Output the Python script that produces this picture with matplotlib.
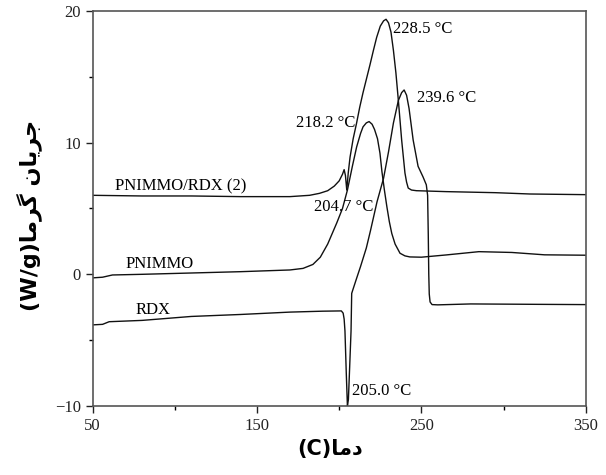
import matplotlib
matplotlib.use('Agg')
import matplotlib.pyplot as plt
from matplotlib.ticker import MultipleLocator

plt.rcParams['font.family'] = ['Liberation Serif', 'DejaVu Serif']

# PNIMMO/RDX (2) curve
mix_T = [50, 80, 110, 140, 170, 182, 188, 193, 197, 200,
         202, 203, 203.8, 204.6, 205.5, 206.6, 208.5, 210.6, 212.5, 214.5,
         216.5, 218.7, 220.8, 222.8, 225, 227, 228.5, 230, 231.5, 233,
         234.5, 236, 238, 240, 241, 242, 244, 247, 265, 295,
         316, 350]
mix_v = [6.0, 5.95, 5.95, 5.9, 5.9, 6.0, 6.15, 6.35, 6.7, 7.1,
         7.6, 7.95, 7.5, 6.4, 7.7, 8.9, 10.3, 11.5, 12.7, 13.8,
         14.8, 15.9, 17.0, 18.0, 18.85, 19.25, 19.37, 19.1, 18.4, 17.0,
         15.3, 13.2, 10.2, 7.7, 7.0, 6.55, 6.4, 6.35, 6.28, 6.2,
         6.1, 6.05]

# PNIMMO
pn_T = [50, 56, 62, 80, 110, 140, 170, 178, 184, 188.5,
        193, 198.5, 202, 205, 208, 210.6, 213, 214.5, 216.5, 218.2,
        220, 221.5, 223.3, 224.8, 226, 227.5, 229, 230.5, 232, 234,
        237, 240, 243, 250, 265, 285, 305, 325, 350]
pn_v = [-0.27, -0.22, -0.05, 0.0, 0.1, 0.2, 0.33, 0.45, 0.75, 1.3,
        2.3, 3.9, 5.0, 6.4, 8.2, 9.67, 10.7, 11.2, 11.5, 11.6,
        11.4, 11.0, 10.3, 9.2, 7.8, 6.4, 5.14, 4.0, 3.1, 2.3,
        1.6, 1.4, 1.32, 1.3, 1.47, 1.72, 1.66, 1.48, 1.45]

# RDX
rdx_T = [50, 56, 60, 80, 110, 140, 170, 190,
         201.3, 202.4, 203.0, 203.5, 204.3, 205.0, 205.6, 206.5, 207.2, 207.6,
         208.5, 210.6, 213, 216.5, 219, 223, 227, 230, 233, 236,
         238, 239.5, 241, 242.5, 245, 248, 251, 253, 253.8, 254.2,
         254.5, 254.8, 255.3, 256.5, 260, 280, 320, 350]
rdx_v = [-3.84, -3.8, -3.6, -3.5, -3.2, -3.05, -2.87, -2.8,
         -2.78, -2.95, -3.4, -4.3, -7.5, -10.0, -9.5, -6.6, -4.3, -1.45,
         -1.1, -0.3, 0.6, 2.0, 3.3, 5.5, 7.3, 9.3, 11.5, 13.2,
         13.8, 14.0, 13.6, 12.6, 10.2, 8.2, 7.4, 6.8, 6.0, 3.0,
         0.0, -1.5, -2.1, -2.3, -2.32, -2.25, -2.28, -2.3]

series_names = ['PNIMMO/RDX (2)', 'PNIMMO', 'RDX']
name_pos = [(63.6, 6.65), (69.8, 0.8), (75.8, -2.7)]

peak_labels = ['228.5 °C', '239.6 °C', '218.2 °C', '204.7 °C', '205.0 °C']
peak_pos = [(232.8, 18.6), (247.4, 13.4), (173.8, 11.5), (184.8, 5.1), (207.8, -8.9)]

x_ticks = [50, 150, 250, 350]
y_ticks = [-10, 0, 10, 20]

fig = plt.figure(figsize=(6.06, 4.75), dpi=100)
ax = fig.add_axes([0.153, 0.1453, 0.8135, 0.8316])

for T, v in [(mix_T, mix_v), (pn_T, pn_v), (rdx_T, rdx_v)]:
    ax.plot(T, v, color='#111111', lw=1.0)

for name, (x, y) in zip(series_names, name_pos):
    ax.text(x, y, name, fontsize=12, ha='left', va='center')
for lab, (x, y) in zip(peak_labels, peak_pos):
    ax.text(x, y, lab, fontsize=12, ha='left', va='center')

ax.set_xlim(50, 350)
ax.set_ylim(-10, 20)
ax.set_xticks(x_ticks)
ax.set_yticks(y_ticks)
ax.xaxis.set_minor_locator(MultipleLocator(50))
ax.yaxis.set_minor_locator(MultipleLocator(5))
ax.tick_params(which='major', direction='out', length=5, width=1.0, labelsize=12, colors='#222222')
ax.tick_params(which='minor', direction='out', length=3, width=1.0)
for s in ax.spines.values():
    s.set_color('#555555')
    s.set_linewidth(1.2)

# Persian labels, glyphs in presentation forms laid out left to right
ylab = '(W/g)' + '\uFE8E\uFEE3\uFEAE\uFB94' + ' ' + '\uFEE5\uFE8E\uFEF3\uFEAE\uFE9F'
xlab = '(C)' + '\uFE8E\uFEE3\uFEA9'
fig.text(0.048, 0.547, ylab, rotation=90, ha='center', va='center',
         fontsize=16, fontweight='bold', family=['DejaVu Sans'])
fig.text(0.545, 0.055, xlab, ha='center', va='center',
         fontsize=15, fontweight='bold', family=['DejaVu Sans'])

fig.savefig('out.png', dpi=100)
